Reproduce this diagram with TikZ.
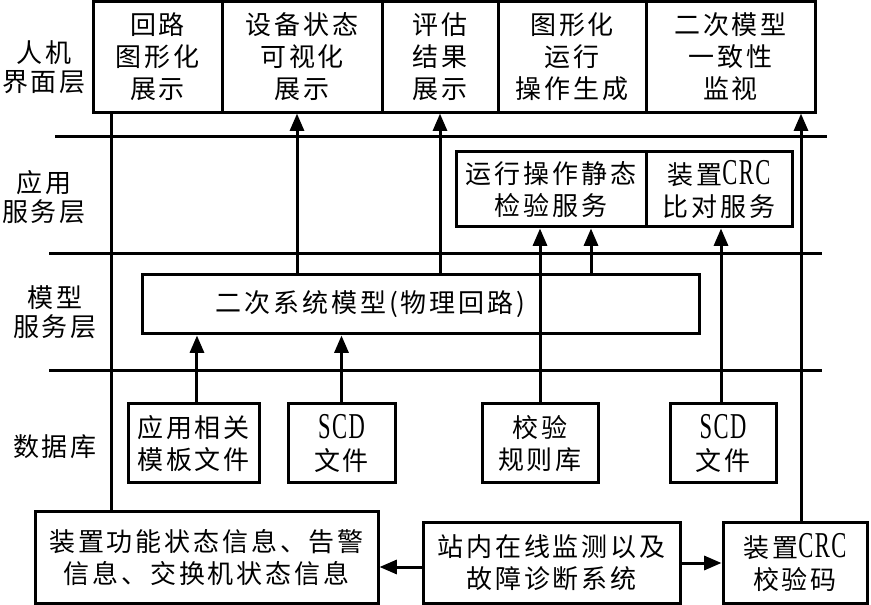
\documentclass[tikz,border=0pt]{standalone}
\usepackage{fontspec}
\setmainfont[LetterSpace=11]{Noto Sans CJK SC}
\newfontfamily\latin[LetterSpace=4,Scale=1.4,FakeStretch=0.62]{Liberation Serif}
\usetikzlibrary{arrows.meta}

\tikzstyle{box}=[draw, rectangle, inner sep=0pt, align=center, font=\fontsize{19.5}{24}\selectfont]
\tikzstyle{layer}=[inner sep=0pt, align=center, font=\fontsize{19.5}{22}\selectfont]
\tikzstyle{flow}=[-{Triangle[length=13pt,width=10.5pt]}]

\begin{document}
\begin{tikzpicture}[x=0.75pt, y=-0.75pt, line width=2.25pt]
      \useasboundingbox (0, 0) rectangle (871, 605);

      \node (lblhmi) at (44, 67) [layer] {人机\\界面层};
      \node (lblapp) at (44, 197) [layer] {应用\\服务层};
      \node (lblmod) at (55, 312) [layer] {模型\\服务层};
      \node (lbldb) at (55, 447) [layer] {数据库};

      \node (hmi1) at (157.5, 56.75)
            [box, minimum width=96.75pt, minimum height=83pt] {回路\\图形化\\展示};
      \node (hmi2) at (302, 56.75)
            [box, minimum width=120pt, minimum height=83pt] {设备状态\\可视化\\展示};
      \node (hmi3) at (440, 56.75)
            [box, minimum width=87pt, minimum height=83pt] {评估\\结果\\展示};
      \node (hmi4) at (572, 56.75)
            [box, minimum width=111pt, minimum height=83pt] {图形化\\运行\\操作生成};
      \node (hmi5) at (730.5, 56.75)
            [box, minimum width=126.75pt, minimum height=83pt] {二次模型\\一致性\\监视};

      \node (chk) at (551, 189.5)
            [box, minimum width=142.5pt, minimum height=56.25pt] {运行操作静态\\检验服务};
      \node (crc) at (719, 189.5)
            [box, minimum width=109.5pt, minimum height=56.25pt] {装置{\latin CRC}\\比对服务};

      \node (model) at (420.5, 304.5)
            [box, minimum width=417.75pt, minimum height=44.25pt,
             label={[font=\fontsize{19.5}{24}\selectfont, xshift=-37.5pt]center:{二次系统模型(物理回路)}}] {};

      \node (tpl) at (193.5, 443.5)
            [box, minimum width=98.25pt, minimum height=59.25pt] {应用相关\\模板文件};
      \node (scd1) at (341.5, 443.5)
            [box, minimum width=80.25pt, minimum height=59.25pt] {{\latin SCD}\\文件};
      \node (rule) at (540, 443.5)
            [box, minimum width=87pt, minimum height=59.25pt] {校验\\规则库};
      \node (scd2) at (723, 443.5)
            [box, minimum width=79.5pt, minimum height=59.25pt] {{\latin SCD}\\文件};

      \node (info) at (206.5, 557.5)
            [box, minimum width=257.25pt, minimum height=68.25pt] {装置功能状态信息、告警\\信息、交换机状态信息};
      \node (mon) at (551.5, 563)
            [box, minimum width=192.75pt, minimum height=60pt] {站内在线监测以及\\故障诊断系统};
      \node (crcc) at (795, 563)
            [box, minimum width=108pt, minimum height=60pt] {装置{\latin CRC}\\校验码};

      \draw (55, 137) -- (827, 137);
      \draw (49, 254) -- (822, 254);
      \draw (49, 371) -- (822, 371);

      \draw ([xshift=15pt]hmi1.south west |- info.north) -- ([xshift=15pt]hmi1.south west);
      \draw[flow] ([xshift=-3.75pt]hmi2.south |- model.north) -- ([xshift=-3.75pt]hmi2.south);
      \draw[flow] (hmi3.south |- model.north) -- (hmi3.south);
      \draw[flow] (rule.north) -- (rule.north |- chk.south);
      \draw[flow] ([xshift=30pt]chk.south |- model.north) -- ([xshift=30pt]chk.south);
      \draw[flow] ([xshift=-1.5pt]scd2.north) -- ([xshift=-1.5pt]scd2.north |- crc.south);
      \draw[flow] ([xshift=4.5pt]crcc.north) -- ([xshift=4.5pt]crcc.north |- hmi5.south);
      \draw[flow] ([xshift=2.6pt]tpl.north) -- ([xshift=2.6pt]tpl.north |- model.south);
      \draw[flow] (scd1.north) -- (scd1.north |- model.south);
      \draw[flow] ([yshift=-3pt]mon.west) -- ([yshift=-3pt]mon.west -| info.east);
      \draw[flow] (mon.east) -- (crcc.west);
\end{tikzpicture}
\end{document}
